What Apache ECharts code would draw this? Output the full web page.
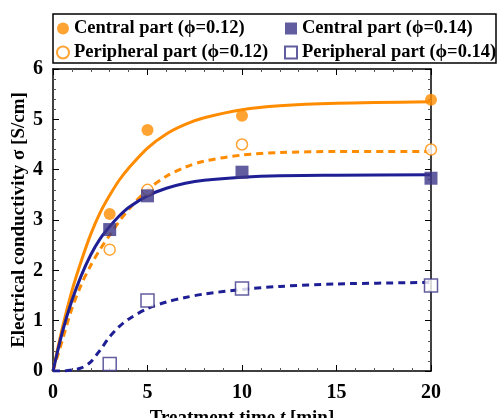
<!DOCTYPE html>
<html lang="en">
<head>
<meta charset="utf-8" />
<title>Electrical conductivity vs treatment time</title>
<script src="https://cdn.jsdelivr.net/npm/echarts@6/dist/echarts.min.js"></script>
<style>
  html, body { margin: 0; padding: 0; background: #fff; }
  #chart { width: 498px; height: 418px; }
</style>
</head>
<body>
<div id="chart"></div>
<script>
// measured points
var times = [3, 5, 10, 20];
var central012 = [3.12, 4.79, 5.07, 5.39];
var peripheral012 = [2.41, 3.60, 4.50, 4.40];
var central014 = [2.81, 3.48, 3.95, 3.83];
var peripheral014 = [0.14, 1.40, 1.64, 1.70];

// fitted curves
var fitT = [0, 0.5, 1, 1.5, 2, 2.5, 3, 3.5, 4, 5, 6, 7, 8, 10, 12, 15, 20];
var fitC012 = [0, 0.86, 1.59, 2.19, 2.72, 3.15, 3.49, 3.79, 4.03, 4.43, 4.71, 4.90, 5.03, 5.19, 5.27, 5.32, 5.35];
var fitP012 = [0, 0.62, 1.24, 1.72, 2.10, 2.42, 2.70, 2.97, 3.21, 3.60, 3.87, 4.05, 4.17, 4.29, 4.34, 4.36, 4.36];
var fitC014 = [0, 0.78, 1.40, 1.90, 2.31, 2.63, 2.87, 3.08, 3.25, 3.48, 3.63, 3.73, 3.79, 3.85, 3.88, 3.89, 3.90];
var fitP014 = [0, 0, 0.02, 0.06, 0.18, 0.42, 0.68, 0.88, 1.03, 1.24, 1.37, 1.46, 1.53, 1.62, 1.68, 1.73, 1.76];

var xTicks = [0, 5, 10, 15, 20];
var yTicks = [0, 1, 2, 3, 4, 5, 6];

var names = ['Central part (\u03d5=0.12)', 'Peripheral part (\u03d5=0.12)',
             'Central part (\u03d5=0.14)', 'Peripheral part (\u03d5=0.14)'];

var ORANGE = '#ff8c00';
var NAVY = '#3b3587';
var BLUE = '#1f1f95';
var FONT = '"Liberation Serif", "Times New Roman", "DejaVu Serif", serif';

function pairs(xs, ys) {
  return xs.map(function (x, i) { return [x, ys[i]]; });
}

var chart = echarts.init(document.getElementById('chart'), null, { renderer: 'canvas' });

function axisBase(show) {
  return {
    type: 'value',
    axisLine: { show: true, onZero: false, lineStyle: { color: '#000', width: 1.5 } },
    axisTick: { show: true, inside: true, length: 6, lineStyle: { color: '#000', width: 1 } },
    minorTick: { show: true, splitNumber: 5, length: 3, lineStyle: { color: '#555', width: 1 } },
    splitLine: { show: false },
    axisLabel: { show: show, color: '#000', fontFamily: FONT, fontWeight: 'bold', fontSize: 20 }
  };
}

var xMain = axisBase(true);
xMain.min = 0; xMain.max = 20; xMain.interval = 5;
xMain.position = 'bottom';
xMain.axisLabel.margin = 12;
xMain.axisLabel.formatter = function (v) { return xTicks.indexOf(v) >= 0 ? String(v) : ''; };
xMain.name = '{b|Treatment time }{i|t}{b| [min]}';
xMain.nameLocation = 'middle';
xMain.nameGap = 38;
xMain.nameMoveOverlap = false;
xMain.nameTextStyle = {
  rich: {
    b: { fontFamily: FONT, fontWeight: 'bold', fontSize: 19, color: '#000' },
    i: { fontFamily: FONT, fontWeight: 'bold', fontStyle: 'italic', fontSize: 19, color: '#000' }
  }
};

var xTop = axisBase(false);
xTop.min = 0; xTop.max = 20; xTop.interval = 5;
xTop.position = 'top';

var yMain = axisBase(true);
yMain.min = 0; yMain.max = 6; yMain.interval = 1;
yMain.position = 'left';
yMain.axisLabel.margin = 10;
yMain.axisLabel.formatter = function (v) { return yTicks.indexOf(v) >= 0 ? String(v) : ''; };
yMain.name = 'Electrical conductivity \u03c3 [S/cm]';
yMain.nameLocation = 'middle';
yMain.nameGap = 24;
yMain.nameMoveOverlap = false;
yMain.nameTextStyle = { fontFamily: FONT, fontWeight: 'bold', fontSize: 19, color: '#000' };

var yRight = axisBase(false);
yRight.min = 0; yRight.max = 6; yRight.interval = 1;
yRight.position = 'right';

var legendText = { fontFamily: FONT, fontWeight: 'bold', fontSize: 18.5, color: '#000' };

var option = {
  animation: false,
  backgroundColor: '#fff',
  grid: { left: 53, right: 67, top: 69, bottom: 47, containLabel: false, outerBoundsMode: 'none' },
  graphic: [{
    type: 'rect',
    shape: { x: 53, y: 14, width: 443, height: 49 },
    style: { fill: '#fff', stroke: '#000', lineWidth: 1.5 },
    z: 0
  }],
  legend: [{
    data: [names[0], names[1]],
    orient: 'vertical',
    left: 56, top: 19, padding: 0,
    itemWidth: 12, itemHeight: 12, itemGap: 5,
    textStyle: legendText,
    z: 10
  }, {
    data: [names[2], names[3]],
    orient: 'vertical',
    left: 284, top: 19, padding: 0,
    itemWidth: 12, itemHeight: 12, itemGap: 5,
    textStyle: legendText,
    z: 10
  }],
  xAxis: [xMain, xTop],
  yAxis: [yMain, yRight],
  series: [
    { type: 'line', data: pairs(fitT, fitC012), showSymbol: false, smooth: 0.3,
      lineStyle: { color: ORANGE, width: 3 }, silent: true, z: 2 },
    { type: 'line', data: pairs(fitT, fitP012), showSymbol: false, smooth: 0.3,
      lineStyle: { color: ORANGE, width: 3, type: [7, 5] }, silent: true, z: 2 },
    { type: 'line', data: pairs(fitT, fitC014), showSymbol: false, smooth: 0.3,
      lineStyle: { color: BLUE, width: 3 }, silent: true, z: 2 },
    { type: 'line', data: pairs(fitT, fitP014), showSymbol: false, smooth: 0.3,
      lineStyle: { color: BLUE, width: 3, type: [7, 5] }, silent: true, z: 2 },
    { name: names[0], type: 'scatter', data: pairs(times, central012), symbol: 'circle', symbolSize: 12,
      itemStyle: { color: ORANGE }, z: 3 },
    { name: names[1], type: 'scatter', data: pairs(times, peripheral012), symbol: 'circle', symbolSize: 11,
      itemStyle: { color: '#fff', borderColor: ORANGE, borderWidth: 1.5 }, z: 3 },
    { name: names[2], type: 'scatter', data: pairs(times, central014), symbol: 'rect', symbolSize: 13,
      itemStyle: { color: NAVY }, z: 3 },
    { name: names[3], type: 'scatter', data: pairs(times, peripheral014), symbol: 'rect', symbolSize: 13,
      itemStyle: { color: '#fff', borderColor: NAVY, borderWidth: 1.5 }, z: 3 }
  ]
};

chart.setOption(option);
</script>
</body>
</html>
